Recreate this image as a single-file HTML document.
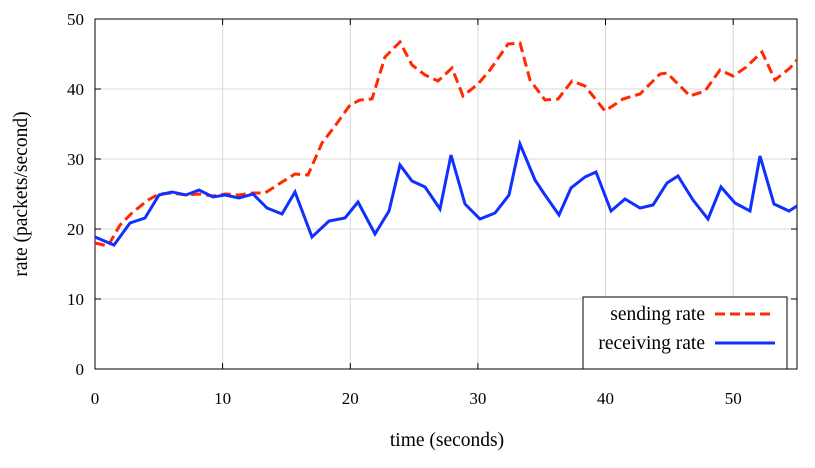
<!DOCTYPE html>
<html><head><style>body{margin:0;background:#fff}svg{display:block}text{font-family:"Liberation Serif",serif;font-size:17px;fill:#000}.b{font-size:19.5px}</style></head>
<body>
<svg width="815" height="468" viewBox="0 0 815 468" xmlns="http://www.w3.org/2000/svg">
<g stroke="#d8d8d8" stroke-width="1">
<line x1="222.6" y1="19" x2="222.6" y2="369"/><line x1="350.3" y1="19" x2="350.3" y2="369"/><line x1="477.9" y1="19" x2="477.9" y2="369"/><line x1="605.5" y1="19" x2="605.5" y2="369"/><line x1="733.2" y1="19" x2="733.2" y2="369"/>
<line x1="95" y1="299" x2="797" y2="299"/><line x1="95" y1="229" x2="797" y2="229"/><line x1="95" y1="159" x2="797" y2="159"/><line x1="95" y1="89" x2="797" y2="89"/>
</g>
<g stroke="#000" stroke-width="1">
<rect x="95" y="19" width="702" height="350" fill="none"/>
<path d="M222.6 369v-6M350.3 369v-6M477.9 369v-6M605.5 369v-6M733.2 369v-6M222.6 19v6M350.3 19v6M477.9 19v6M605.5 19v6M733.2 19v6M95 299h6M95 229h6M95 159h6M95 89h6M797 299h-6M797 229h-6M797 159h-6M797 89h-6"/>
</g>
<polyline fill="none" stroke="#ff2a00" stroke-width="3" stroke-dasharray="10,5" points="95,243 108,246 120,225 132,213 148,200 159,194 172,193 186,195 199,194 213,196 225,194 239,195 253,193 265,193 282,182 295,174 308,175 322,143 335,126 350,105 360,100 372,99 385,57 400,42 412,65 425,75 438,81 452,68 463,96 478,84 490,70 508,44 520,43 530,80 545,100 558,99 572,81 585,86 605,111 623,99 640,94 660,74 667,73 690,96 705,91 720,70 733,76 745,68 762,52 775,80 790,68 797,60"/>
<polyline fill="none" stroke="#1030ff" stroke-width="3" points="95,237 114,245 130,223 145,218 159,195 172,192 186,195 199,190 213,197 225,195 239,198 253,194 267,208 282,214 295,192 312,237 329,221 345,218 358,202 375,234 389,211 400,165 412,181 425,187 440,209 451,155 465,204 480,219 495,213 509,195 520,144 535,180 545,195 559,215 571,188 585,177 596,172 611,211 625,199 640,208 653,205 667,183 678,176 693,200 708,219 721,187 735,203 750,211 760,156 774,204 789,211 797,206"/>
<rect x="583" y="297" width="204" height="72" fill="#fff" stroke="#000"/>
<text class="b" x="705" y="320" text-anchor="end">sending rate</text>
<text class="b" x="705" y="349" text-anchor="end">receiving rate</text>
<line x1="715" y1="314" x2="775" y2="314" stroke="#ff2a00" stroke-width="3" stroke-dasharray="10,5"/>
<line x1="715" y1="343" x2="775" y2="343" stroke="#1030ff" stroke-width="3"/>
<g text-anchor="end"><text x="84" y="375">0</text><text x="84" y="305">10</text><text x="84" y="235">20</text><text x="84" y="165">30</text><text x="84" y="95">40</text><text x="84" y="25">50</text></g>
<g text-anchor="middle"><text x="95" y="404">0</text><text x="222.6" y="404">10</text><text x="350.3" y="404">20</text><text x="477.9" y="404">30</text><text x="605.5" y="404">40</text><text x="733.2" y="404">50</text>
<text class="b" x="447" y="446">time (seconds)</text>
<text class="b" transform="translate(27,194) rotate(-90)">rate (packets/second)</text></g>
</svg>
</body></html>
